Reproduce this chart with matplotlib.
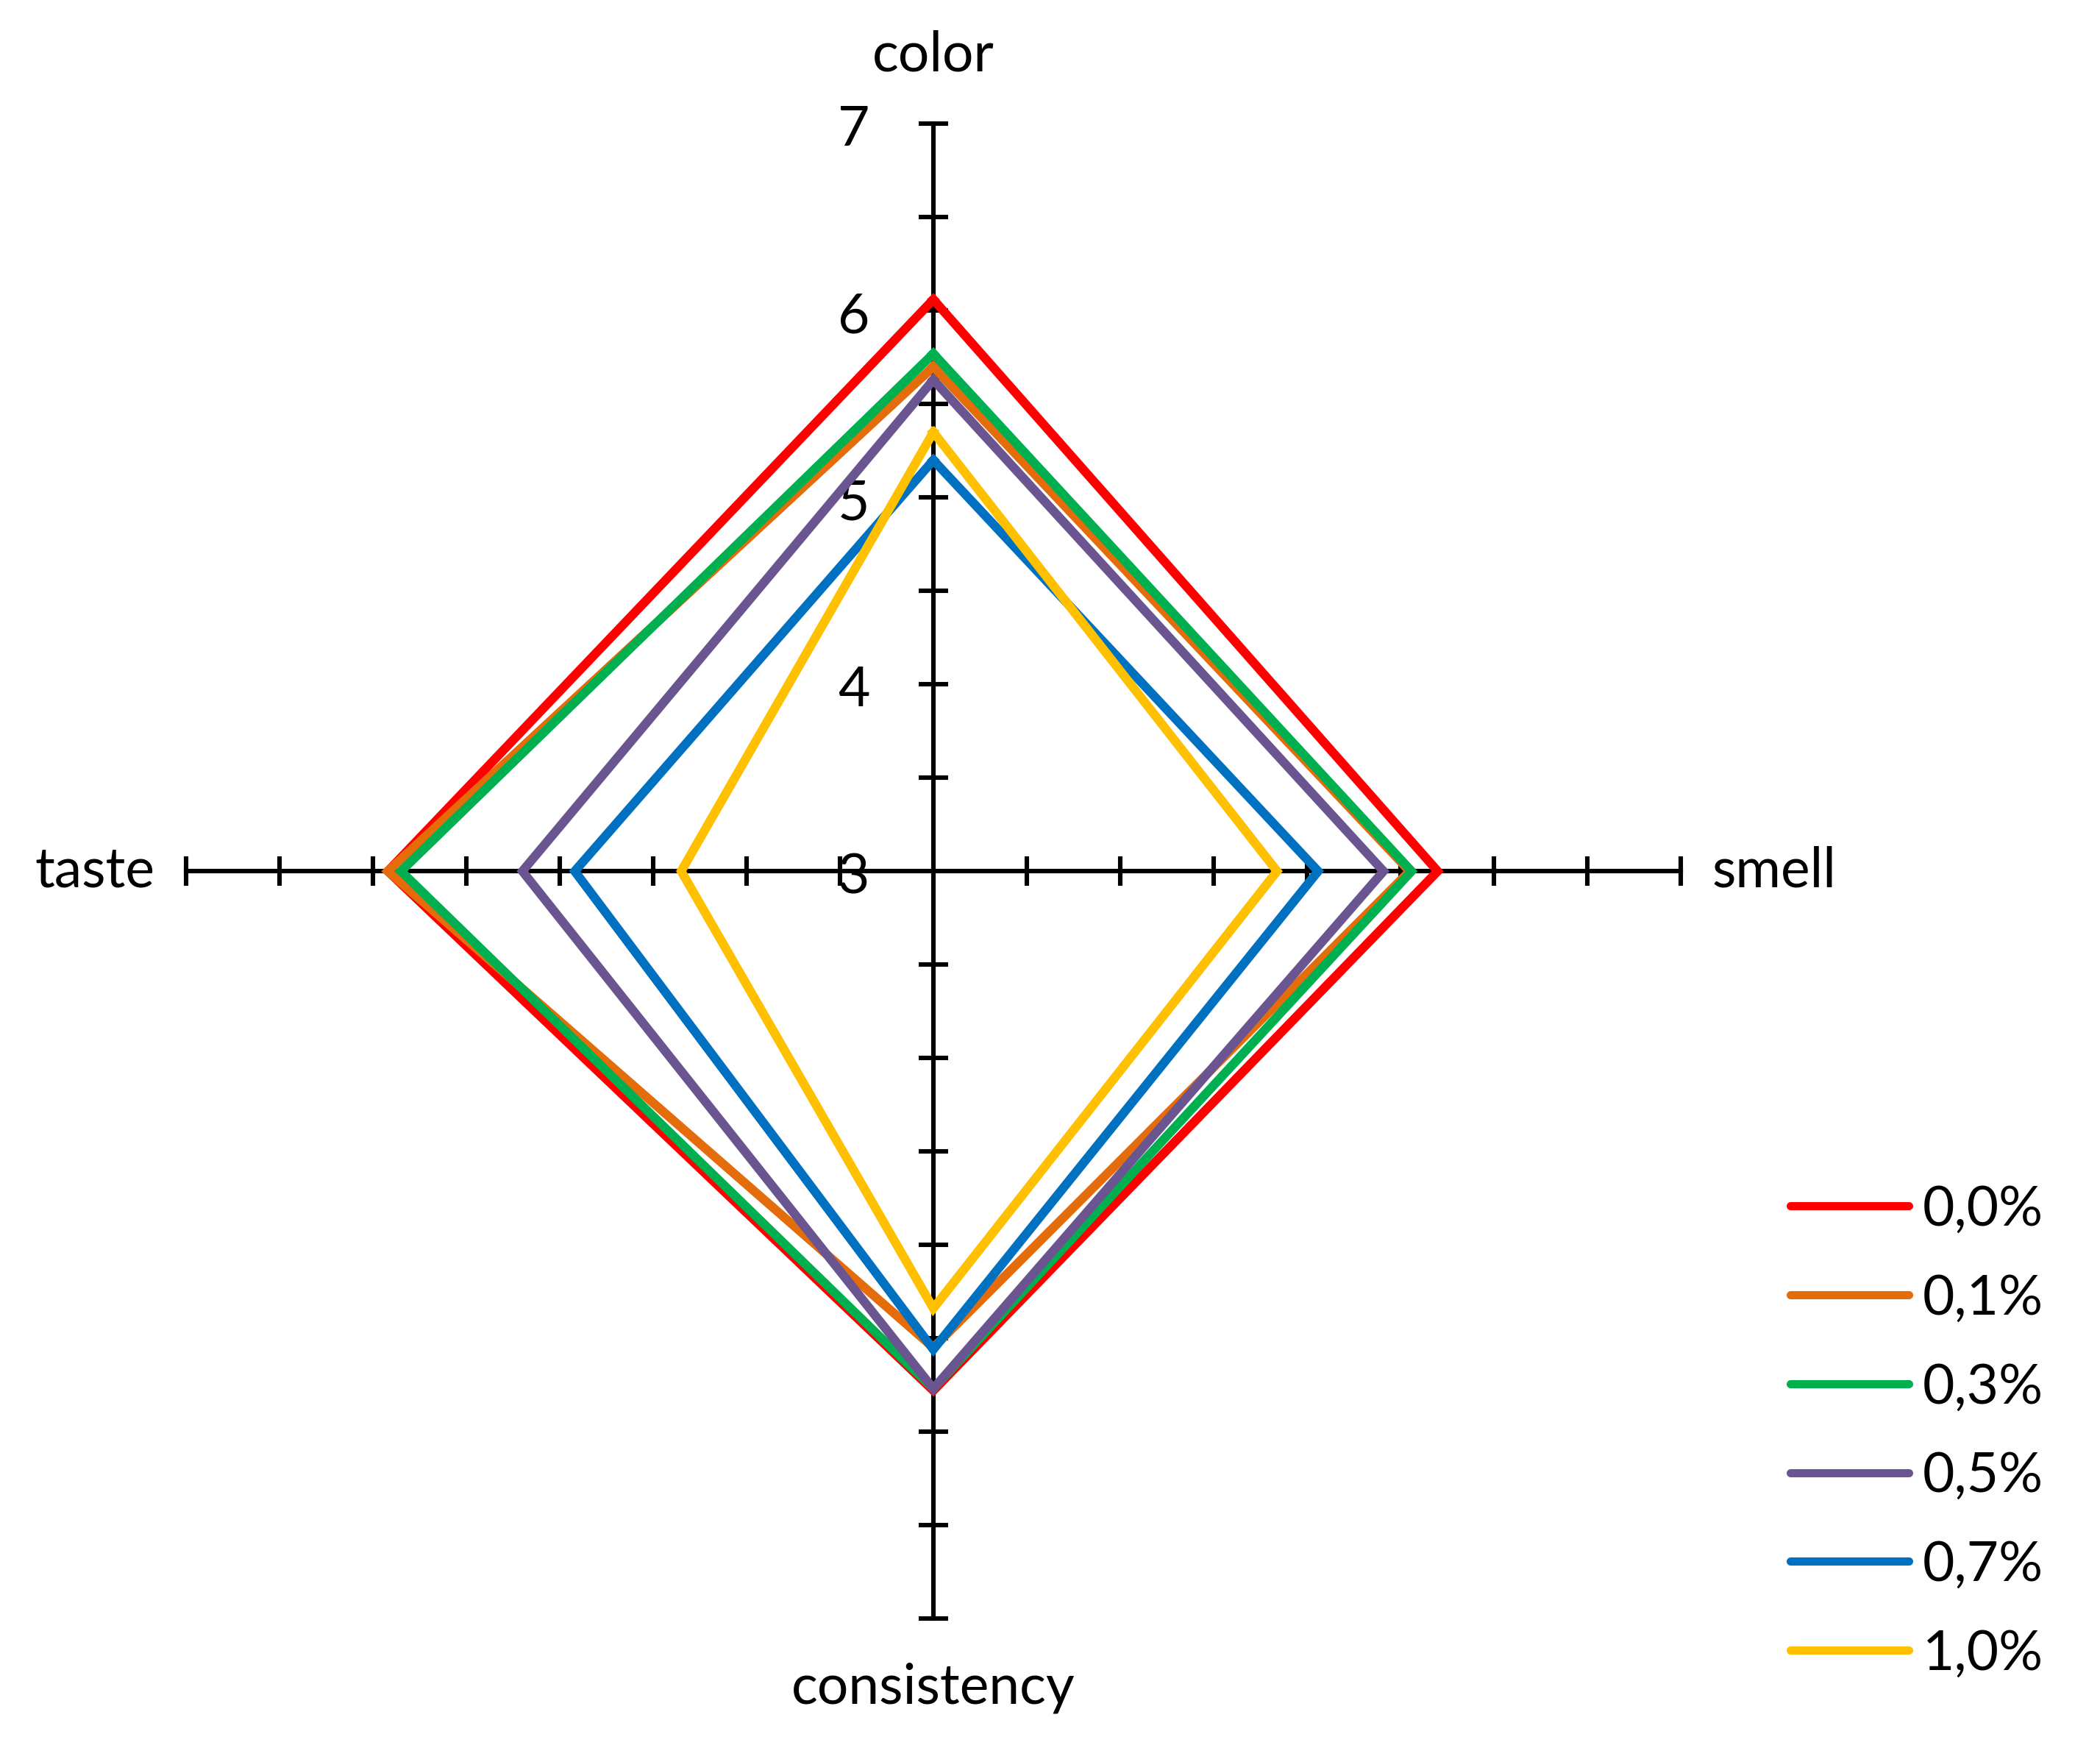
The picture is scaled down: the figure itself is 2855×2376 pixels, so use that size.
"""
Radar chart of sensory scores (color, smell, consistency, taste)
"""
import numpy as np
import matplotlib
matplotlib.use("Agg")
import matplotlib.pyplot as plt

plt.rcParams['font.family'] = ['Lato', 'DejaVu Sans']

attributes = ["color", "smell", "consistency", "taste"]
series_labels = ["0,0%", "0,1%", "0,3%", "0,5%", "0,7%", "1,0%"]
series_colors = ["#FF0000", "#E46C0A", "#00B050", "#6A5590", "#0070C0", "#FFC000"]

# scores per series, in attribute order: color, smell, consistency, taste
s_00 = [6.06, 5.70, 5.78, 5.92]
s_01 = [5.70, 5.55, 5.55, 5.92]
s_03 = [5.77, 5.56, 5.77, 5.85]
s_05 = [5.63, 5.41, 5.77, 5.20]
s_07 = [5.20, 5.06, 5.56, 4.92]
s_10 = [5.35, 4.84, 5.34, 4.35]
series_values = [s_00, s_01, s_03, s_05, s_07, s_10]

r_min, r_max = 3, 7
tick_values = [3, 4, 5, 6, 7]
minor_step = 0.5

fig = plt.figure(figsize=(14.275, 11.88), dpi=200)
ax = fig.add_axes([0.0886, 0.0741, 0.7117, 0.855], projection='polar')
ax.set_theta_zero_location('N')
ax.set_theta_direction(-1)
ax.set_ylim(r_min, r_max)
ax.set_axis_off()

angles = np.deg2rad([0, 90, 180, 270])

# spokes with perpendicular tick marks
marks = np.arange(r_min + minor_step, r_max + 0.01, minor_step)
for ang in angles:
    ax.plot([ang, ang], [r_min, r_max], color='black', lw=2.2, clip_on=False, zorder=1)
    vertical = np.isclose(np.sin(ang), 0)
    ax.plot(np.full(len(marks), ang), marks, linestyle='none',
            marker='_' if vertical else '|', markersize=14.5,
            markeredgewidth=2.2, color='black', clip_on=False, zorder=1)

# value labels on the color spoke
for v in tick_values:
    ax.annotate(str(v), xy=(0, v), xytext=(-31, -3), textcoords='offset points',
                ha='right', va='center', fontsize=27, annotation_clip=False)

# attribute labels
ax.text(angles[0], 7.37, attributes[0], ha='center', va='center', fontsize=27)
ax.text(angles[1], 7.17, attributes[1], ha='left', va='center', fontsize=27)
ax.text(angles[2], 7.37, attributes[2], ha='center', va='center', fontsize=27)
ax.text(angles[3], 7.17, attributes[3], ha='right', va='center', fontsize=27)

closed_angles = np.append(angles, angles[0])
handles = []
for vals, lab, col in zip(series_values, series_labels, series_colors):
    line, = ax.plot(closed_angles, vals + vals[:1], color=col, lw=4.4,
                    solid_joinstyle='miter', clip_on=False, zorder=3, label=lab)
    handles.append(line)

leg = fig.legend(handles=handles, loc='upper left', bbox_to_anchor=(0.8525, 0.3225),
                 frameon=False, fontsize=27, handlelength=2.15, handletextpad=0.25,
                 labelspacing=0.69, borderpad=0, borderaxespad=0)
for h in leg.get_lines():
    h.set_linewidth(4.0)
    h.set_solid_capstyle('round')

fig.savefig("out.png", dpi=200)
